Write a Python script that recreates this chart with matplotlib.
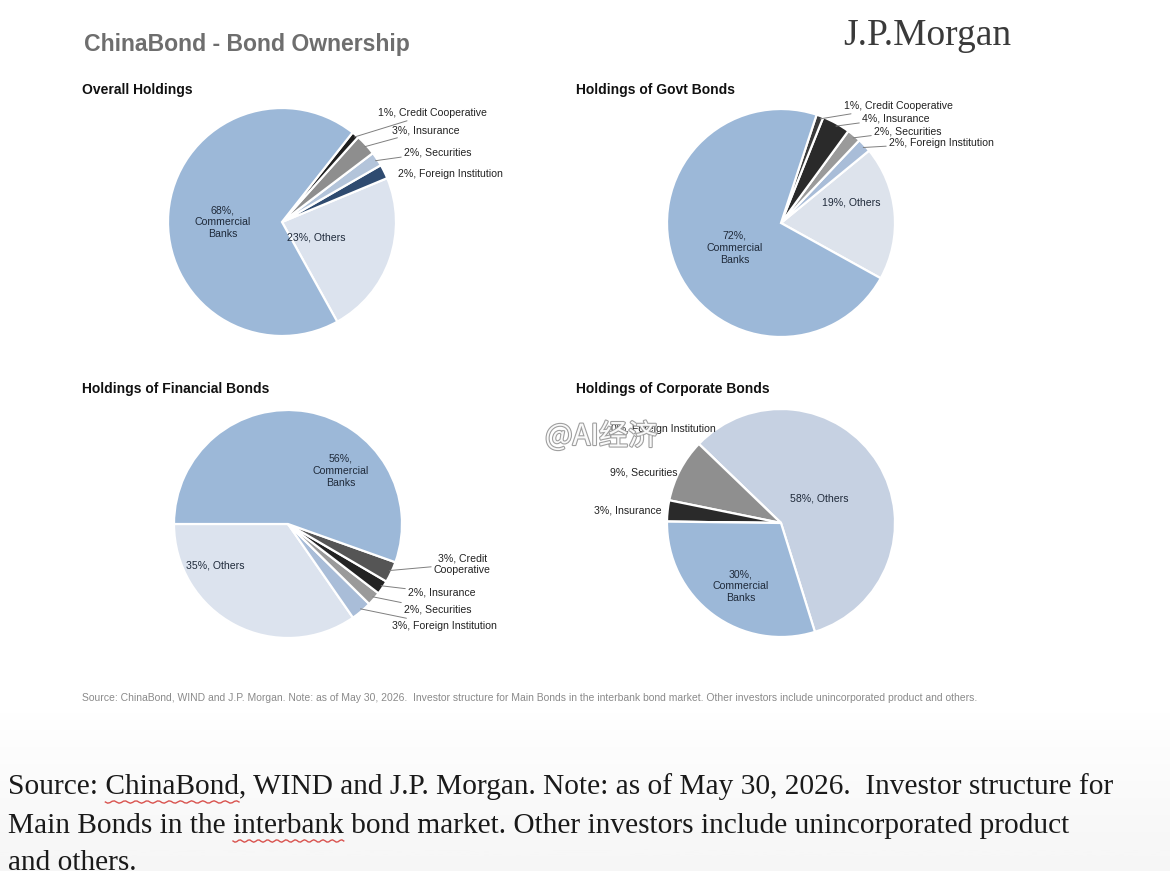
import matplotlib
matplotlib.use("Agg")
import matplotlib.pyplot as plt
import matplotlib.patheffects as pe
import numpy as np

# ---------------- data ----------------
categories = ["Others", "Foreign Institution", "Securities", "Insurance",
              "Credit Cooperative", "Commercial Banks"]

overall_values = [23, 2, 2, 3, 1, 68]
govt_values = [19, 2, 2, 4, 1, 72]
financial_values = [35, 3, 2, 2, 3, 56]
corporate_values = [58, 0, 9, 3, 0, 30]

panel_titles = ["Overall Holdings", "Holdings of Govt Bonds",
                "Holdings of Financial Bonds", "Holdings of Corporate Bonds"]

main_title = "ChinaBond - Bond Ownership"
source_small = ("Source: ChinaBond, WIND and J.P. Morgan. Note: as of May 30, 2026.  "
                "Investor structure for Main Bonds in the interbank bond market. "
                "Other investors include unincorporated product and others.")
source_big_lines = [
    "Source: ChinaBond, WIND and J.P. Morgan. Note: as of May 30, 2026.  Investor structure for",
    "Main Bonds in the interbank bond market. Other investors include unincorporated product",
    "and others.",
]

# ---------------- figure ----------------
W, H = 1170, 871
fig = plt.figure(figsize=(W / 100, H / 100), dpi=100)
fig.patch.set_facecolor("white")

# bottom gradient background
bg = fig.add_axes([0, 0, 1, 165 / H], zorder=-10)
grad = np.linspace(0, 1, 256).reshape(-1, 1)
bg.imshow(grad, aspect="auto", cmap="Greys", vmin=0, vmax=13, extent=[0, 1, 0, 1], origin="upper")
bg.axis("off")


def px_axes(cx, cy, r):
    return fig.add_axes([(cx - r) / W, 1 - (cy + r) / H, 2 * r / W, 2 * r / H])


LABEL_FS = 7.6
LABEL_FAM = ["Liberation Sans", "DejaVu Sans"]
LEAD = dict(arrowstyle="-", color="#7f7f7f", lw=0.7, shrinkA=0, shrinkB=1)

panels = [
    dict(values=overall_values, cx=282, cy=222, r=114, start=-61,
         colors=["#DCE3EE", "#2F4B70", "#B3C4DA", "#8E8E8E", "#1E1E1E", "#9CB8D8"],
         inner={"Commercial Banks": (-0.518, 0.0, "68%,\nCommercial\nBanks"),
                "Others": (0.30, -0.14, "23%, Others")},
         outer={"Credit Cooperative": (0.84, 0.956, "left", True),
                "Insurance": (0.965, 0.807, "left", True),
                "Securities": (1.07, 0.614, "left", True),
                "Foreign Institution": (1.018, 0.421, "left", False)}),
    dict(values=govt_values, cx=781, cy=223, r=114, start=-29,
         colors=["#DDE3EC", "#A9BDD8", "#9A9A9A", "#2A2A2A", "#3A3A3A", "#9CB8D8"],
         inner={"Commercial Banks": (-0.404, -0.219, "72%,\nCommercial\nBanks"),
                "Others": (0.614, 0.184, "19%, Others")},
         outer={"Credit Cooperative": (0.553, 1.026, "left", True),
                "Insurance": (0.711, 0.921, "left", True),
                "Securities": (0.816, 0.807, "left", True),
                "Foreign Institution": (0.947, 0.702, "left", True)}),
    dict(values=financial_values, cx=288, cy=524, r=114, start=180,
         colors=["#DCE3EE", "#A9BDD8", "#9A9A9A", "#232323", "#555555", "#9CB8D8"],
         inner={"Commercial Banks": (0.465, 0.465, "56%,\nCommercial\nBanks"),
                "Others": (-0.64, -0.36, "35%, Others")},
         outer={"Credit Cooperative": (1.28, -0.351, "left", True),
                "Insurance": (1.053, -0.605, "left", True),
                "Securities": (1.018, -0.754, "left", True),
                "Foreign Institution": (0.912, -0.895, "left", True)}),
    dict(values=corporate_values, cx=781, cy=523, r=114, start=-72.7,
         colors=["#C6D1E2", "#A9BDD8", "#8F8F8F", "#2A2A2A", "#555555", "#9CB8D8"],
         inner={"Commercial Banks": (-0.351, -0.553, "30%,\nCommercial\nBanks"),
                "Others": (0.333, 0.211, "58%, Others")},
         outer={"Foreign Institution": (-0.57, 0.825, "right", False),
                "Securities": (-0.912, 0.447, "right", False),
                "Insurance": (-1.044, 0.114, "right", False)}),
]

title_pos = [(82, 90), (576, 90), (82, 389), (576, 389)]

for p, t, (tx, ty) in zip(panels, panel_titles, title_pos):
    ax = px_axes(p["cx"], p["cy"], p["r"])
    vals = p["values"]
    wedges, _ = ax.pie(vals, colors=p["colors"], startangle=p["start"], counterclock=True,
                       radius=1.0, wedgeprops=dict(edgecolor="white", linewidth=1.6))
    ax.set_xlim(-1, 1)
    ax.set_ylim(-1, 1)
    ax.set_aspect("auto")
    ax.axis("off")
    for cat, w, v in zip(categories, wedges, vals):
        mid = np.deg2rad((w.theta1 + w.theta2) / 2)
        if cat in p["inner"]:
            x, y, s = p["inner"][cat]
            ax.text(x, y, s, ha="center", va="center", fontsize=LABEL_FS,
                    family=LABEL_FAM, color="#1f2a3a", linespacing=1.25)
        elif cat in p["outer"]:
            x, y, ha, lead = p["outer"][cat]
            name = "Credit\nCooperative" if (cat == "Credit Cooperative" and p["values"] is financial_values) else cat
            s = f"{v}%, {name}"
            if lead:
                ax.annotate(s, xy=(0.97 * np.cos(mid), 0.97 * np.sin(mid)), xytext=(x, y),
                            ha=ha, va="center", fontsize=LABEL_FS, family=LABEL_FAM,
                            color="#222222", multialignment="center",
                            arrowprops=LEAD, annotation_clip=False)
            else:
                ax.text(x, y, s, ha=ha, va="center", fontsize=LABEL_FS, family=LABEL_FAM,
                        color="#222222")
    fig.text(tx / W, 1 - ty / H, t, ha="left", va="center", fontsize=10,
             fontweight="bold", family=LABEL_FAM, color="#111111")

# main title & logo
fig.text(84 / W, 1 - 45 / H, main_title, ha="left", va="center", fontsize=16.6,
         fontweight="bold", family=LABEL_FAM, color="#6e6e6e")
fig.text(843 / W, 1 - 36 / H, "J.P.Morgan", ha="left", va="center", fontsize=27,
         family=["Liberation Serif", "DejaVu Serif"], color="#3a3a3a")

# small source line
fig.text(82 / W, 1 - 698 / H, source_small, ha="left", va="center", fontsize=7.45,
         family=LABEL_FAM, color="#8a8a8a")

# big serif source text
big_y = [787, 826, 863]
BIG_FS = 21.2
SERIF = ["Liberation Serif", "DejaVu Serif"]
renderer = fig.canvas.get_renderer()
for line, y in zip(source_big_lines, big_y):
    fig.text(8 / W, 1 - y / H, line, ha="left", va="center", fontsize=BIG_FS,
             family=SERIF, color="#1a1a1a")


# spell-check style underlines under "ChinaBond" and "interbank"
def underline(line_idx, prefix, word):
    y = big_y[line_idx]
    t1 = fig.text(8 / W, 0, prefix, fontsize=BIG_FS, family=SERIF, alpha=0)
    t2 = fig.text(8 / W, 0, prefix + word, fontsize=BIG_FS, family=SERIF, alpha=0)
    x0 = 8 + t1.get_window_extent(renderer).width
    x1 = 8 + t2.get_window_extent(renderer).width
    t1.remove(); t2.remove()
    xs = np.linspace(x0, x1, 60)
    ys = y + 15 + 1.2 * np.sin(np.linspace(0, 24 * np.pi, 60))
    fig.add_artist(plt.Line2D(xs / W, 1 - ys / H, color="#d9534f", lw=1.0,
                              transform=fig.transFigure))


underline(0, "Source: ", "ChinaBond")
underline(1, "Main Bonds in the ", "interbank")

# watermark
fig.text(545 / W, 1 - 437 / H, "@AI经济", ha="left", va="center", fontsize=21,
         family=["Noto Sans CJK SC", "DejaVu Sans"], color="white", alpha=0.95,
         path_effects=[pe.withStroke(linewidth=1.6, foreground="#9a9a9a")])

fig.savefig("out.png", dpi=100, facecolor="white")
